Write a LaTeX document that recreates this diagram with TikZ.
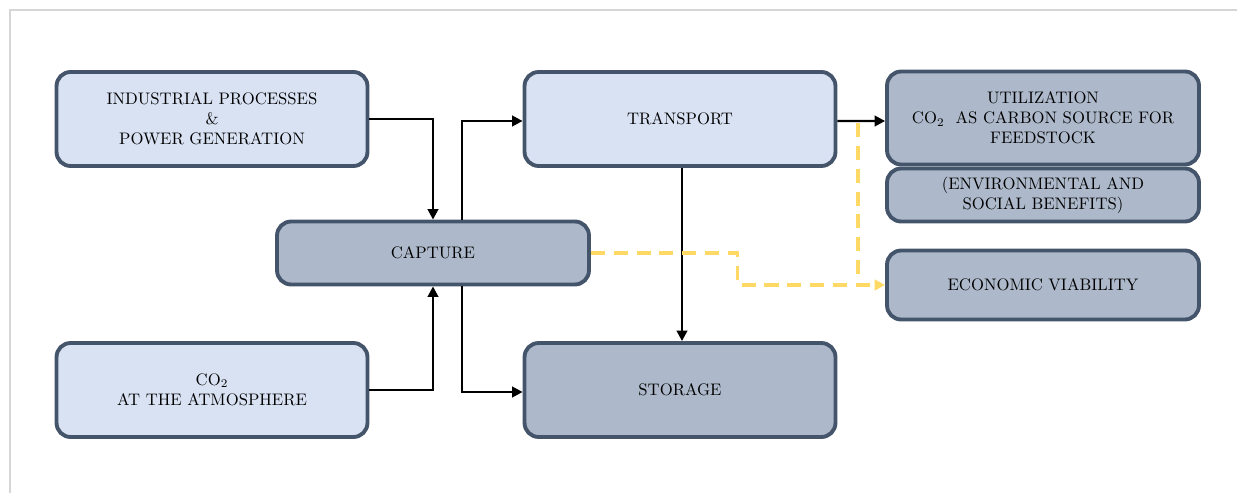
\documentclass[tikz,border=0pt]{standalone}
\usepackage{tikz}
\usetikzlibrary{arrows.meta}
\definecolor{slate}{HTML}{44546A}
\definecolor{paleblue}{HTML}{D9E2F3}
\definecolor{greyblue}{HTML}{ADB9CA}
\definecolor{gold}{HTML}{FFD966}
\definecolor{framegrey}{HTML}{D6D6D6}
\tikzset{
  lightbox/.style={draw=slate, fill=paleblue, line width=2.2pt, rounded corners=8pt,
    align=center, inner sep=2pt, font=\fontsize{9.5}{11.5}\selectfont},
  darkbox/.style={lightbox, fill=greyblue},
  flow/.style={-{Triangle[length=6pt,width=6pt]}, line width=1.4pt},
  eco/.style={draw=gold, line width=1.8pt, dash pattern=on 8pt off 5pt},
  ecoarrow/.style={eco, -{Triangle[length=6pt,width=6pt]}}
}
\begin{document}
\begin{tikzpicture}[x=0.02cm, y=-0.02cm]
  \useasboundingbox (0,0) rectangle (1237,493);
  % Frame
  \draw[framegrey, line width=0.8pt] (1237,10) -- (10,10) -- (10,493);
  % Boxes
  \node[lightbox, minimum width=6.22cm, minimum height=1.88cm] (ind) at (212,119)
    {INDUSTRIAL PROCESSES\\\&\\POWER GENERATION};
  \node[lightbox, minimum width=6.22cm, minimum height=1.88cm] (atm) at (212,390)
    {CO\textsubscript{2}\\AT THE ATMOSPHERE};
  \node[darkbox, minimum width=6.24cm, minimum height=1.26cm] (cap) at (433,253)
    {CAPTURE};
  \node[lightbox, minimum width=6.22cm, minimum height=1.88cm] (trans) at (680,119)
    {TRANSPORT};
  \node[darkbox, minimum width=6.22cm, minimum height=1.88cm] (stor) at (680,390)
    {STORAGE};
  \node[darkbox, minimum width=6.24cm, minimum height=1.86cm] (util) at (1043,118)
    {UTILIZATION\\CO\textsubscript{2}\ \ AS CARBON SOURCE FOR\\FEEDSTOCK};
  \node[darkbox, minimum width=6.24cm, minimum height=1.06cm] (benef) at (1043,195)
    {(ENVIRONMENTAL AND\\SOCIAL BENEFITS)};
  \node[darkbox, minimum width=6.24cm, minimum height=1.38cm] (econ) at (1043,285)
    {ECONOMIC VIABILITY};
  % Capture inputs
  \draw[flow] (ind.east) -| (cap.north);
  \draw[flow] (atm.east) -| (cap.south);
  % Capture outputs
  \draw[flow] ([xshift=0.58cm]cap.north) |- ([yshift=-0.04cm]trans.west);
  \draw[flow] ([xshift=0.58cm]cap.south) |- ([yshift=-0.04cm]stor.west);
  \draw[flow] ([xshift=0.04cm]trans.south) -- ([xshift=0.04cm]stor.north);
  \draw[flow] ([yshift=-0.04cm]trans.east) -- ([yshift=-0.06cm]util.west);
  % Economic links
  \coordinate (tap) at (858,123);
  \draw[ecoarrow] (cap.east) -- ++(147,0) |- (econ.west);
  \draw[eco] (tap) -- (tap |- econ.west);
\end{tikzpicture}
\end{document}
